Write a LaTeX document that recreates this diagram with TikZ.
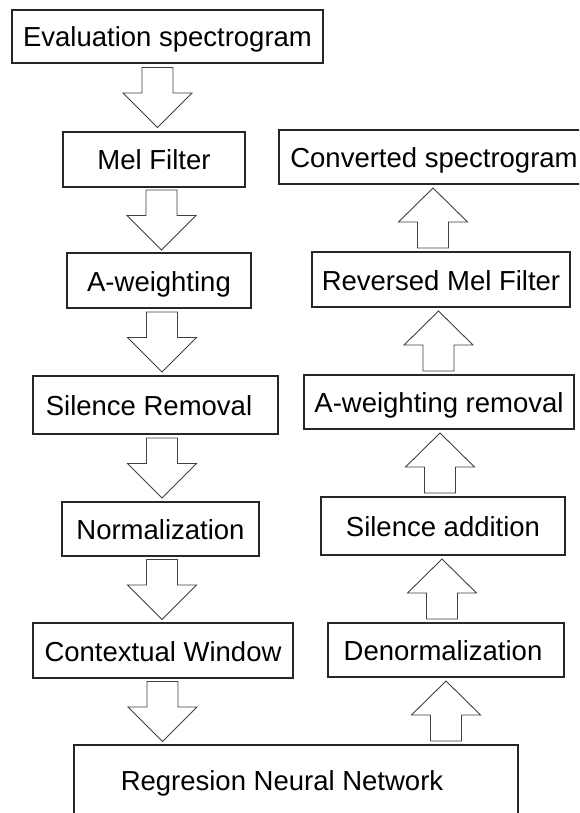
\documentclass[tikz,border=0pt]{standalone}
\usepackage{fontspec}
\setmainfont{Liberation Sans}
\usetikzlibrary{calc}
\tikzset{
  box/.style={draw=black!85, line width=1.3pt, rectangle, inner sep=0pt,
    font=\fontsize{27.5}{33}\selectfont, text height=26pt, text depth=5pt},
  lbl/.style={inner sep=0pt, font=\fontsize{27.5}{33}\selectfont},
  blk/.style={draw=black!75, line width=0.9pt, fill=white, line join=miter},
  pics/downarr/.style={code={
    \draw[blk] (-15.5,-30) -- (15.5,-30) -- (15.5,-4.5) -- (34.5,-4.5) -- (0,30)
      -- (-34.5,-4.5) -- (-15.5,-4.5) -- cycle;}},
  pics/uparr/.style={code={
    \draw[blk] (-15.5,30) -- (15.5,30) -- (15.5,4) -- (34.5,4) -- (0,-30)
      -- (-34.5,4) -- (-15.5,4) -- cycle;}},
}
\begin{document}
\begin{tikzpicture}[x=1pt, y=-1pt]
\useasboundingbox (0,0) rectangle (579,813);
\clip (0,0) rectangle (579,813);
\fill[white] (0,0) rectangle (579,813);

% left column
\node[box, minimum width=311pt, minimum height=53pt] (ev) at (167.5,36.5) {Evaluation spectrogram};
\node[box, minimum width=182pt, minimum height=55pt] (mel) at (154,159.5) {Mel Filter};
\node[box, minimum width=184pt, minimum height=55pt] (aw) at (159,280.5) {A-weighting};
\node[box, minimum width=245pt, minimum height=58pt] (sr) at (155.5,405) {Silence Removal\hspace*{13pt}};
\node[box, minimum width=197pt, minimum height=54pt] (nm) at (160.5,529) {Normalization};
\node[box, minimum width=260pt, minimum height=55pt] (cw) at (163,650.5) {Contextual Window};
\node[box, minimum width=444pt, minimum height=110pt] (rnn) at (296,800) {};
\node[lbl, anchor=base] (rnntxt) at (282,790) {Regresion Neural Network};

% right column
\node[box, minimum width=310pt, minimum height=54pt] (cv) at (434,157) {Converted spectrogram};
\node[box, minimum width=258pt, minimum height=55pt] (rm) at (441,279.5) {Reversed Mel Filter};
\node[box, minimum width=270pt, minimum height=54pt] (awr) at (439,402) {A-weighting removal};
\node[box, minimum width=244pt, minimum height=58pt] (sa) at (443,526) {Silence addition};
\node[box, minimum width=236pt, minimum height=54pt] (dn) at (446,650) {Denormalization\hspace*{6pt}};

% midpoints between boxes
\coordinate (m1) at ($(ev.south)!0.5!(mel.north)$);
\coordinate (m2) at ($(mel.south)!0.5!(aw.north)$);
\coordinate (m3) at ($(aw.south)!0.5!(sr.north)$);
\coordinate (m4) at ($(sr.south)!0.5!(nm.north)$);
\coordinate (m5) at ($(nm.south)!0.5!(cw.north)$);
\coordinate (m6) at ($(cw.south)!0.5!(rnn.north)$);
\coordinate (n1) at ($(rm.north)!0.5!(cv.south)$);
\coordinate (n2) at ($(awr.north)!0.5!(rm.south)$);
\coordinate (n3) at ($(sa.north)!0.5!(awr.south)$);
\coordinate (n4) at ($(dn.north)!0.5!(sa.south)$);
\coordinate (n5) at ($(rnn.north)!0.5!(dn.south)$);

% block arrows
\pic at (157.5,0 |- m1) {downarr};
\pic at (161.5,0 |- m2) {downarr};
\pic at (162,0 |- m3) {downarr};
\pic at (162,0 |- m4) {downarr};
\pic at (162,0 |- m5) {downarr};
\pic at (162.5,0 |- m6) {downarr};
\pic at (433,0 |- n1) {uparr};
\pic at (438.5,0 |- n2) {uparr};
\pic at (440,0 |- n3) {uparr};
\pic at (442,0 |- n4) {uparr};
\pic at (446,0 |- n5) {uparr};
\end{tikzpicture}
\end{document}
